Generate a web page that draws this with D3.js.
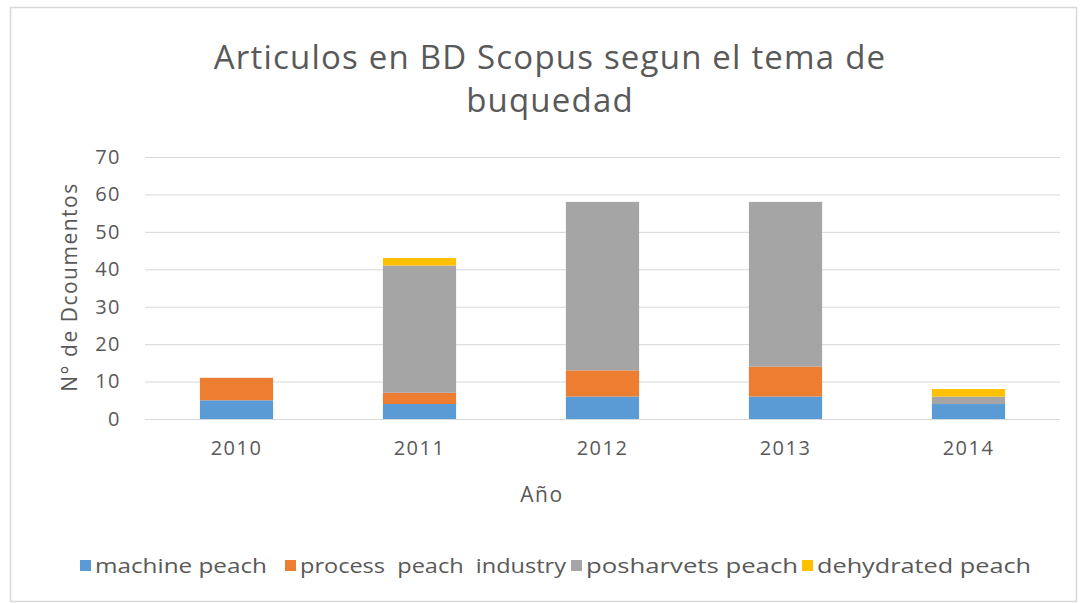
<!DOCTYPE html>
<html>
<head>
<meta charset="utf-8">
<script src="https://cdn.jsdelivr.net/npm/d3@7"></script>
<style>
  body { margin: 0; background: #fff; }
  text { fill: #595959; }
</style>
</head>
<body>
<div id="chart"></div>
<script>
var years = ["2010", "2011", "2012", "2013", "2014"];
var seriesNames = ["machine peach", "process  peach  industry", "posharvets peach", "dehydrated peach"];
var machine = [5, 4, 6, 6, 4];
var process = [6, 3, 7, 8, 0];
var posharvest = [0, 34, 45, 44, 2];
var dehydrated = [0, 2, 0, 0, 2];
var yTicks = [0, 10, 20, 30, 40, 50, 60, 70];
var colors = ["#5b9bd5", "#ed7d31", "#a5a5a5", "#ffc000"];

var width = 1080, height = 603;
var margin = {top: 157, right: 20, bottom: 185, left: 145};

var svg = d3.select("#chart").append("svg")
    .attr("width", width)
    .attr("height", height);

// chart frame
svg.append("rect")
    .attr("x", 10.5).attr("y", 7.5)
    .attr("width", 1066).attr("height", 594)
    .style("fill", "#fff")
    .style("stroke", "#d9d9d9")
    .style("stroke-width", 1.5);

var rows = years.map((y, i) => ({
    year: y,
    s0: machine[i], s1: process[i], s2: posharvest[i], s3: dehydrated[i]
}));
var stacked = d3.stack().keys(["s0", "s1", "s2", "s3"])(rows);

var xScale = d3.scaleBand()
    .domain(years)
    .range([margin.left, 1060])
    .paddingInner(0.6)
    .paddingOuter(0.3);

var yScale = d3.scaleLinear()
    .domain([0, 70])
    .range([419, margin.top]);

// gridlines
svg.append("g")
    .attr("class", "grid")
    .selectAll("line")
    .data(yTicks)
    .enter().append("line")
    .attr("x1", margin.left)
    .attr("x2", 1060)
    .attr("y1", d => yScale(d) + 0.5)
    .attr("y2", d => yScale(d) + 0.5)
    .style("stroke", "#d9d9d9")
    .style("stroke-width", 1);

// y axis labels
var yAxis = svg.append("g")
    .attr("transform", "translate(" + margin.left + ",0)")
    .call(d3.axisLeft(yScale).tickValues(yTicks).tickSize(0).tickPadding(24));
yAxis.select(".domain").remove();
yAxis.selectAll("text")
    .style("font-family", "'Open Sans', sans-serif")
    .style("font-size", "20px")
    .style("letter-spacing", "1.5px")
    .style("fill", "#595959");

// bars
svg.append("g").selectAll("g")
    .data(stacked)
    .enter().append("g")
    .style("fill", (d, i) => colors[i])
    .selectAll("rect")
    .data(d => d)
    .enter().append("rect")
    .attr("x", d => xScale(d.data.year))
    .attr("y", d => yScale(d[1]))
    .attr("height", d => yScale(d[0]) - yScale(d[1]))
    .attr("width", xScale.bandwidth());

// x axis labels
var xAxis = svg.append("g")
    .attr("transform", "translate(0,419)")
    .call(d3.axisBottom(xScale).tickSize(0).tickPadding(22));
xAxis.select(".domain").remove();
xAxis.selectAll("text")
    .style("font-family", "'Open Sans', sans-serif")
    .style("font-size", "20px")
    .style("letter-spacing", "1.5px")
    .style("fill", "#595959");

// title
var title = svg.append("text")
    .attr("text-anchor", "middle")
    .style("font-family", "'Open Sans', sans-serif")
    .style("font-size", "33px")
    .style("letter-spacing", "1.2px")
    .style("fill", "#595959");
title.append("tspan").attr("x", 550).attr("y", 69).text("Articulos en BD Scopus segun el tema de");
title.append("tspan").attr("x", 550).attr("y", 112).text("buquedad");

// axis titles
svg.append("text")
    .attr("transform", "translate(77,287) rotate(-90)")
    .attr("text-anchor", "middle")
    .style("font-family", "'Open Sans', sans-serif")
    .style("font-size", "21px")
    .style("letter-spacing", "1.5px")
    .text("N° de Dcoumentos");

svg.append("text")
    .attr("x", 542)
    .attr("y", 502)
    .attr("text-anchor", "middle")
    .style("font-family", "'Open Sans', sans-serif")
    .style("font-size", "21px")
    .style("letter-spacing", "1.5px")
    .text("Año");

// legend
var legendX = [80, 285, 571, 802];
var legendLen = [172, 266, 212, 214];
var legend = svg.append("g").selectAll("g")
    .data(seriesNames)
    .enter().append("g")
    .attr("transform", (d, i) => "translate(" + legendX[i] + ",566)");
legend.append("rect")
    .attr("x", 0).attr("y", -6)
    .attr("width", 11).attr("height", 11)
    .style("fill", (d, i) => colors[i]);
legend.append("text")
    .attr("x", 15)
    .attr("y", 0)
    .attr("dy", "0.35em")
    .attr("xml:space", "preserve")
    .attr("textLength", (d, i) => legendLen[i])
    .attr("lengthAdjust", "spacingAndGlyphs")
    .style("font-family", "'Open Sans', sans-serif")
    .style("font-size", "20px")
    .text(d => d);
</script>
</body>
</html>
